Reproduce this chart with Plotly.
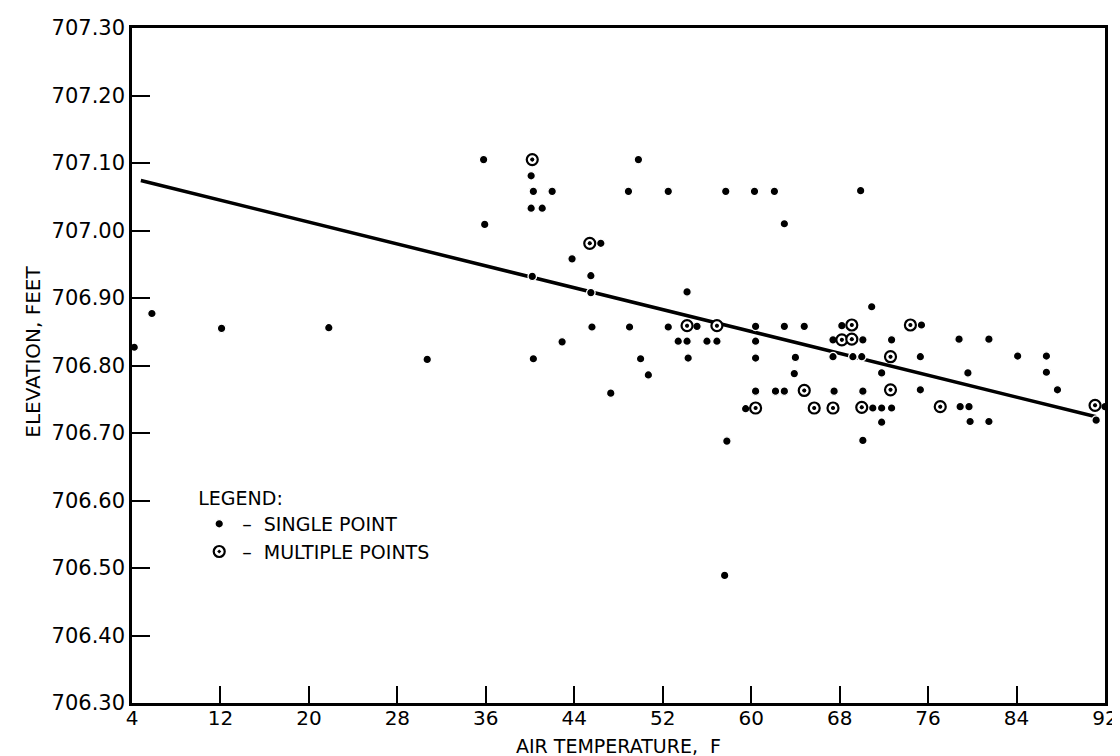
import plotly.graph_objects as go

# Single observations (air temperature F, elevation ft)
single_temp = [4.2, 5.8, 12.1, 21.8, 30.7,
               35.8, 49.8, 40.1, 40.3, 42.0, 48.9, 52.5, 57.7, 60.3, 40.1, 41.1, 35.9, 46.4, 43.8,
               62.1, 69.9, 63.0,
               40.2, 45.5, 45.5, 54.2, 45.6, 49.0, 52.5, 55.1, 60.4, 42.9, 53.4, 54.2, 56.0, 56.9,
               60.4, 40.3, 50.0, 54.3, 60.4, 50.7, 47.3, 60.4, 59.5, 57.8, 57.6,
               70.9, 63.0, 64.8, 68.2, 75.4, 67.4, 70.1, 72.7, 78.8, 81.5,
               64.0, 67.4, 69.2, 70.0, 75.3, 84.1, 86.7,
               63.9, 71.8, 79.6, 86.7,
               62.2, 63.0, 67.5, 70.1, 75.3, 87.7,
               71.0, 71.8, 72.7, 78.9, 79.7, 92.0,
               71.8, 79.8, 81.5, 91.2, 70.1]
single_elev = [706.827, 706.877, 706.855, 706.856, 706.809,
               707.105, 707.105, 707.081, 707.058, 707.058, 707.058, 707.058, 707.058, 707.058, 707.033, 707.033, 707.009, 706.981, 706.958,
               707.058, 707.059, 707.010,
               706.932, 706.933, 706.908, 706.909, 706.857, 706.857, 706.857, 706.858, 706.858, 706.835, 706.836, 706.836, 706.836, 706.836,
               706.836, 706.810, 706.810, 706.811, 706.811, 706.786, 706.759, 706.762, 706.736, 706.688, 706.489,
               706.887, 706.858, 706.858, 706.859, 706.860, 706.838, 706.838, 706.838, 706.839, 706.839,
               706.812, 706.813, 706.813, 706.813, 706.813, 706.814, 706.814,
               706.788, 706.789, 706.789, 706.790,
               706.762, 706.762, 706.762, 706.762, 706.764, 706.764,
               706.737, 706.737, 706.737, 706.739, 706.739, 706.739,
               706.716, 706.717, 706.717, 706.719, 706.689]

# Multiple observations at the same reading
multi_temp = [40.2, 45.4, 54.2, 56.9, 60.4, 69.1, 74.4, 68.2, 69.1, 72.6, 64.8, 72.6,
              65.7, 67.4, 70.0, 77.1, 91.1]
multi_elev = [707.105, 706.981, 706.859, 706.859, 706.737, 706.860, 706.860, 706.838, 706.839,
              706.813, 706.763, 706.764, 706.737, 706.737, 706.738, 706.739, 706.741]

# Fitted line end points
line_temp = [4.8, 91.2]
line_elev = [707.074, 706.724]

x_ticks = [4, 12, 20, 28, 36, 44, 52, 60, 68, 76, 84, 92]
y_ticks = [706.30, 706.40, 706.50, 706.60, 706.70, 706.80, 706.90, 707.00, 707.10, 707.20, 707.30]

FONT = "DejaVu Sans"
NB = "\u00a0"

fig = go.Figure()
fig.add_trace(go.Scatter(x=line_temp, y=line_elev, mode="lines",
                         line=dict(color="black", width=3.5), showlegend=False, hoverinfo="skip"))
fig.add_trace(go.Scatter(x=single_temp, y=single_elev, mode="markers",
                         name="\u2013" + NB + NB + "SINGLE POINT",
                         marker=dict(symbol="circle", size=8.5, color="black",
                                     line=dict(color="white", width=1.3))))
fig.add_trace(go.Scatter(x=multi_temp, y=multi_elev, mode="markers",
                         name="\u2013" + NB + NB + "MULTIPLE POINTS",
                         marker=dict(symbol="circle-dot", size=11, color="white",
                                     line=dict(color="black", width=2.2))))
fig.add_trace(go.Scatter(x=multi_temp, y=multi_elev, mode="markers", showlegend=False,
                         hoverinfo="skip",
                         marker=dict(symbol="circle", size=4, color="black", line=dict(width=0))))

fig.update_layout(
    width=1120, height=756,
    margin=dict(l=124, r=23, t=20, b=61),
    paper_bgcolor="white", plot_bgcolor="white",
    font=dict(family=FONT, size=20, color="black"),
    showlegend=True,
    legend=dict(title=dict(text="LEGEND:", font=dict(size=19)),
                x=0.066, y=0.33, xanchor="left", yanchor="top",
                bgcolor="rgba(0,0,0,0)", font=dict(size=19), itemwidth=36,
                tracegroupgap=0),
    annotations=[
        dict(text="AIR TEMPERATURE," + NB + NB + "F", xref="paper", yref="paper",
             x=0.5, y=-0.064, xanchor="center", yanchor="middle", showarrow=False,
             font=dict(size=19), borderpad=0),
        dict(text="ELEVATION, FEET", xref="paper", yref="paper", textangle=-90,
             x=-0.102, y=0.52, xanchor="center", yanchor="middle", showarrow=False,
             font=dict(size=20)),
    ],
)
fig.update_xaxes(range=[4, 92], tickvals=x_ticks, ticks="inside", ticklen=17, tickwidth=1.5,
                 tickcolor="black", showline=True, linecolor="black", linewidth=2.5, mirror=True,
                 showgrid=False, zeroline=False, automargin=False, ticklabelstandoff=-5,
                 tickfont=dict(size=20))
fig.update_yaxes(range=[706.30, 707.30], tickvals=y_ticks, tickformat=".2f", ticks="inside",
                 ticklen=18, tickwidth=1.5, tickcolor="black", showline=True, linecolor="black",
                 linewidth=2.5, mirror=True, showgrid=False, zeroline=False, automargin=False,
                 tickfont=dict(size=21))

fig.write_html("out.html")
